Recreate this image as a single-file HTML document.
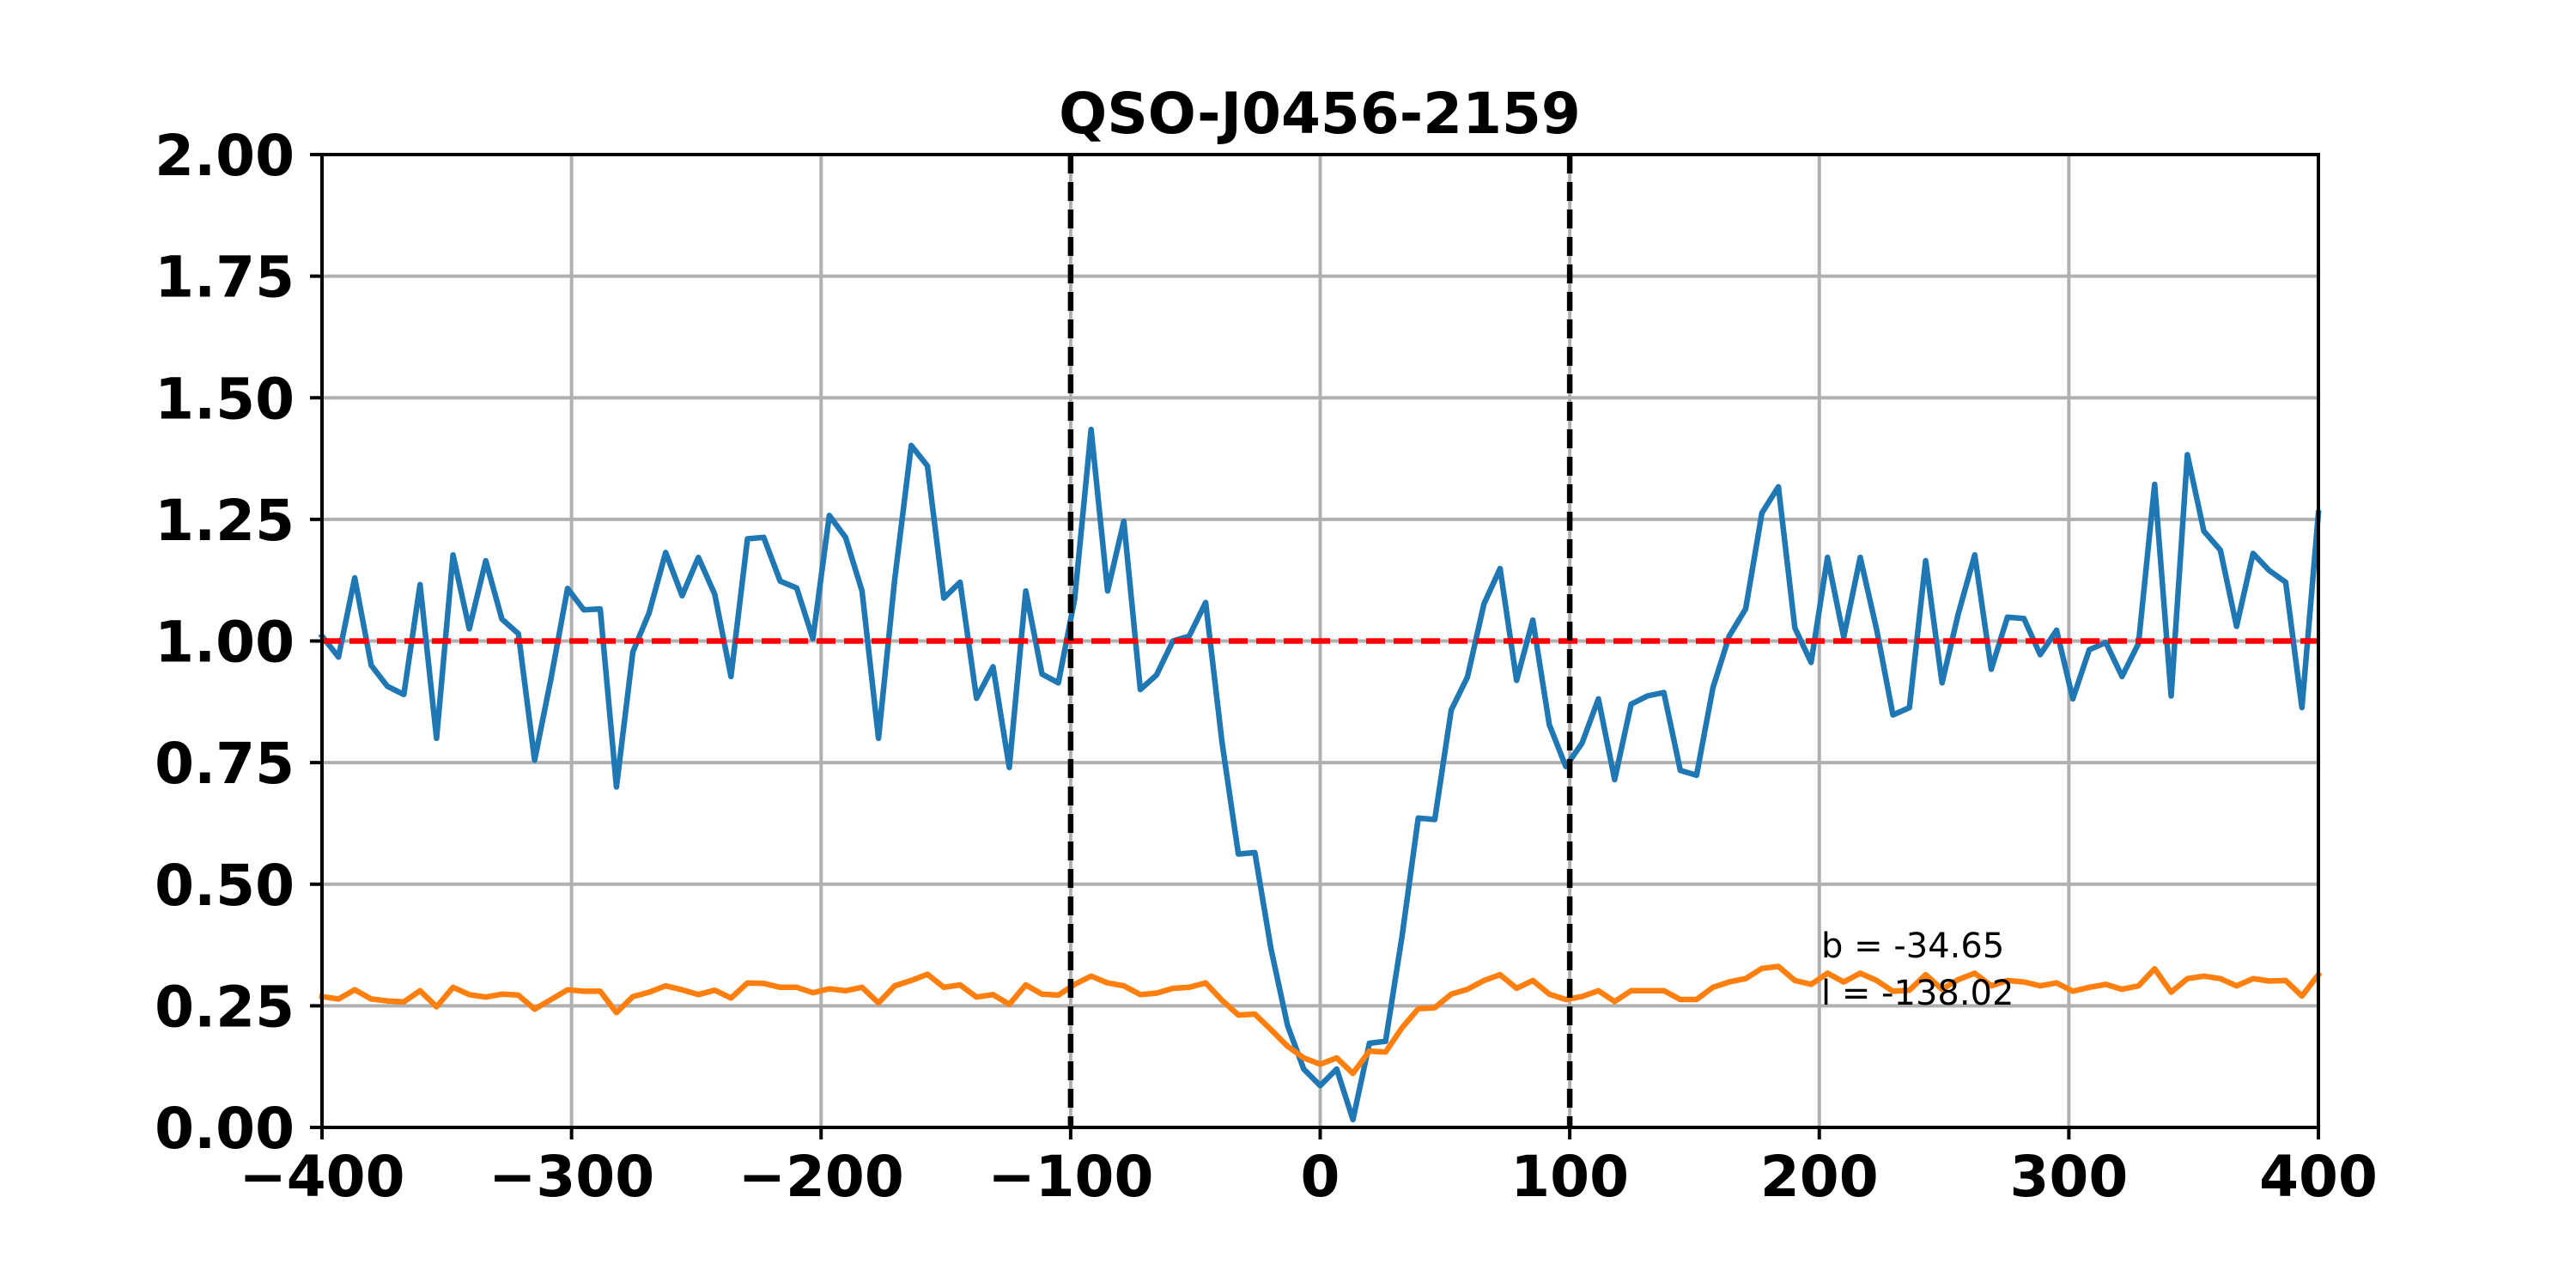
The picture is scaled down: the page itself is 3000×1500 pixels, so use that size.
<!DOCTYPE html>
<html><head><meta charset="utf-8"><style>
html,body{margin:0;padding:0;background:#fff;}
svg{display:block;}
text{font-family:"DejaVu Sans","Liberation Sans",sans-serif;}
</style></head><body>
<svg id="chart" width="3000" height="1500" viewBox="0 0 3000 1500" xmlns="http://www.w3.org/2000/svg">
<rect x="0" y="0" width="3000" height="1500" fill="#fff"/>
<g id="grid"></g>
<g id="series"></g>
<g id="axes"></g>
<text x="1537" y="155" font-size="66" font-weight="bold" text-anchor="middle">QSO-J0456-2159</text>
<text x="2121" y="1115" font-size="40">b = -34.65</text>
<text x="2121" y="1170" font-size="40">l = -138.02</text>
</svg>
<script>
const velocity = [-400.0,-393.4,-386.9,-380.3,-373.8,-367.2,-360.7,-354.1,-347.5,-341.0,-334.4,-327.9,-321.3,-314.8,-308.2,-301.6,-295.1,-288.5,-282.0,-275.4,-268.9,-262.3,-255.7,-249.2,-242.6,-236.1,-229.5,-223.0,-216.4,-209.8,-203.3,-196.7,-190.2,-183.6,-177.0,-170.5,-163.9,-157.4,-150.8,-144.3,-137.7,-131.1,-124.6,-118.0,-111.5,-104.9,-98.4,-91.8,-85.2,-78.7,-72.1,-65.6,-59.0,-52.5,-45.9,-39.3,-32.8,-26.2,-19.7,-13.1,-6.6,0.0,6.6,13.1,19.7,26.2,32.8,39.3,45.9,52.5,59.0,65.6,72.1,78.7,85.2,91.8,98.4,104.9,111.5,118.0,124.6,131.1,137.7,144.3,150.8,157.4,163.9,170.5,177.0,183.6,190.2,196.7,203.3,209.8,216.4,223.0,229.5,236.1,242.6,249.2,255.7,262.3,268.9,275.4,282.0,288.5,295.1,301.6,308.2,314.8,321.3,327.9,334.4,341.0,347.5,354.1,360.7,367.2,373.8,380.3,386.9,393.4,400.0];
const fluxValues = [1.01,0.967,1.13,0.95,0.907,0.89,1.116,0.80,1.177,1.025,1.165,1.045,1.015,0.755,0.924,1.108,1.064,1.066,0.70,0.978,1.058,1.182,1.093,1.172,1.096,0.927,1.21,1.213,1.123,1.109,1.005,1.258,1.213,1.103,0.80,1.127,1.402,1.36,1.088,1.121,0.882,0.947,0.74,1.103,0.932,0.914,1.086,1.435,1.103,1.246,0.90,0.93,1.0,1.01,1.079,0.79,0.562,0.565,0.367,0.21,0.12,0.086,0.12,0.016,0.173,0.177,0.393,0.636,0.633,0.858,0.926,1.076,1.149,0.919,1.043,0.828,0.742,0.79,0.881,0.715,0.87,0.887,0.894,0.734,0.724,0.904,1.01,1.066,1.263,1.317,1.027,0.956,1.172,1.008,1.172,1.023,0.848,0.863,1.165,0.914,1.056,1.177,0.942,1.049,1.046,0.972,1.022,0.881,0.982,0.997,0.927,0.995,1.322,0.887,1.383,1.226,1.187,1.03,1.18,1.145,1.121,0.863,1.263];
const errorValues = [0.269,0.264,0.283,0.264,0.26,0.258,0.281,0.248,0.288,0.273,0.268,0.274,0.272,0.243,0.263,0.283,0.28,0.28,0.236,0.269,0.278,0.291,0.283,0.273,0.282,0.266,0.297,0.296,0.288,0.288,0.277,0.285,0.281,0.288,0.256,0.291,0.302,0.315,0.288,0.293,0.268,0.273,0.253,0.293,0.274,0.272,0.294,0.311,0.297,0.291,0.273,0.276,0.286,0.288,0.297,0.261,0.231,0.233,0.201,0.167,0.143,0.130,0.143,0.111,0.157,0.155,0.205,0.244,0.246,0.274,0.284,0.302,0.314,0.286,0.302,0.274,0.263,0.269,0.281,0.259,0.281,0.281,0.281,0.263,0.263,0.288,0.299,0.306,0.327,0.331,0.302,0.294,0.317,0.299,0.317,0.302,0.280,0.282,0.314,0.284,0.304,0.317,0.291,0.302,0.299,0.291,0.297,0.280,0.288,0.294,0.284,0.291,0.326,0.278,0.306,0.311,0.306,0.291,0.306,0.301,0.302,0.270,0.314];
const xTicks = [-400,-300,-200,-100,0,100,200,300,400];
const xTickLabels = ["\u2212400","\u2212300","\u2212200","\u2212100","0","100","200","300","400"];
const yTicks = [0,0.25,0.5,0.75,1.0,1.25,1.5,1.75,2.0];
const yTickLabels = ["0.00","0.25","0.50","0.75","1.00","1.25","1.50","1.75","2.00"];
const continuumLevel = [1.0];
const windowEdges = [-100,100];

const X0=375, X1=2700, Y0=1313, Y1=180;
const xMin=-400, xMax=400, yMin=0, yMax=2;
function sx(v){return X0+(v-xMin)/(xMax-xMin)*(X1-X0);}
function sy(v){return Y0-(v-yMin)/(yMax-yMin)*(Y0-Y1);}
const NS="http://www.w3.org/2000/svg";
function mk(tag,attrs,parent){const e=document.createElementNS(NS,tag);for(const k in attrs)e.setAttribute(k,attrs[k]);parent.appendChild(e);return e;}
const grid=document.getElementById('grid'), series=document.getElementById('series'), axes=document.getElementById('axes');

xTicks.forEach(function(t,i){
  const g=mk('line',{x1:sx(t),x2:sx(t),y1:Y1,y2:Y0,stroke:'#b0b0b0','stroke-width':4},grid);
  
  
  const tk=mk('line',{x1:sx(t),x2:sx(t),y1:Y0,y2:Y0+14,stroke:'#000','stroke-width':4},axes);
  
  
  const tx=mk('text',{x:sx(t),y:1393,'font-size':66,'font-weight':'bold','text-anchor':'middle'},axes);
  tx.textContent=xTickLabels[i];
  
  
});
yTicks.forEach(function(t,i){
  const g=mk('line',{x1:X0,x2:X1,y1:sy(t),y2:sy(t),stroke:'#b0b0b0','stroke-width':4},grid);
  
  
  const tk=mk('line',{x1:X0-14,x2:X0,y1:sy(t),y2:sy(t),stroke:'#000','stroke-width':4},axes);
  
  
  const tx=mk('text',{x:343,y:sy(t)+24,'font-size':66,'font-weight':'bold','text-anchor':'end'},axes);
  tx.textContent=yTickLabels[i];
  
  
});

function linePath(vals){return vals.map(function(v,i){return (i?'L':'M')+sx(velocity[i]).toFixed(1)+' '+sy(v).toFixed(1);}).join(' ');}
const flux=mk('path',{d:linePath(fluxValues),fill:'none',stroke:'#1f77b4','stroke-width':6.5,'stroke-linejoin':'round','stroke-linecap':'square'},series);


const err=mk('path',{d:linePath(errorValues),fill:'none',stroke:'#ff7f0e','stroke-width':6.5,'stroke-linejoin':'round','stroke-linecap':'square'},series);


const cont=mk('line',{x1:X0,x2:X1,y1:sy(continuumLevel[0]),y2:sy(continuumLevel[0]),stroke:'#ff0000','stroke-width':6.5,'stroke-dasharray':'22 10'},series);


windowEdges.forEach(function(w){
  const l=mk('line',{x1:sx(w),x2:sx(w),y1:Y1,y2:Y0,stroke:'#000','stroke-width':6.5,'stroke-dasharray':'22 10'},series);
  
  
});
const frame=mk('rect',{x:X0,y:Y1,width:X1-X0,height:Y0-Y1,fill:'none',stroke:'#000','stroke-width':4},axes);


</script>
</body></html>
